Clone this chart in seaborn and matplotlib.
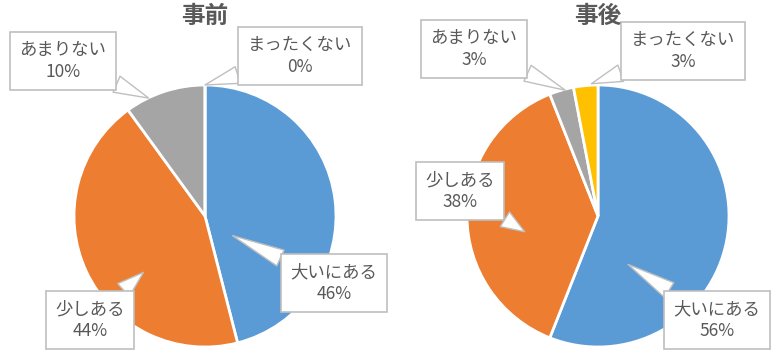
import numpy as np
import matplotlib
matplotlib.use("Agg")
import matplotlib.pyplot as plt
import seaborn as sns

categories = ["大いにある", "少しある", "あまりない", "まったくない"]
before_values = [46, 44, 10, 0]
after_values = [56, 38, 3, 3]
titles = ["事前", "事後"]
colors = ["#5B9BD5", "#ED7D31", "#A5A5A5", "#FFC000"]

# callout layout: (box centre in image px, pointer target in pie data units)
before_callouts = [((334, 283), (0.21, -0.15)),
                   ((90, 320), (-0.47, -0.43)),
                   ((63, 61), (-0.43, 0.90)),
                   ((300, 56), (0.0, 1.0))]
after_callouts = [((717, 320), (0.23, -0.37)),
                  ((460, 191), (-0.56, -0.12)),
                  ((474, 49), (-0.25, 0.96)),
                  ((683, 51), (-0.05, 1.01))]

sns.set_theme(style="white")
plt.rcParams["font.family"] = ["Noto Sans CJK JP", "DejaVu Sans"]

W, H = 780, 357
fig = plt.figure(figsize=(W / 100, H / 100), dpi=100)

R = 131
centres = [(205, 216), (598, 216)]
TEXT = "#595959"


def draw_pie(centre, values, title, callouts):
    cx, cy = centre
    ax = fig.add_axes([(cx - R) / W, (H - cy - R) / H, 2 * R / W, 2 * R / H])
    ax.pie(values, colors=colors, startangle=90, counterclock=False,
           radius=1.0, wedgeprops=dict(edgecolor="white", linewidth=2))
    ax.set_xlim(-1, 1)
    ax.set_ylim(-1, 1)
    ax.set_aspect("equal")
    ax.axis("off")
    fig.text(cx / W, 1 - 16 / H, title, ha="center", va="center",
             fontsize=17, fontweight="bold", color=TEXT)
    for cat, val, (box, tip) in zip(categories, values, callouts):
        ax.annotate(f"{cat}\n{val}%", xy=tip, xycoords="data",
                    xytext=(box[0], H - box[1]), textcoords="figure pixels",
                    ha="center", va="center", fontsize=12.5, color=TEXT,
                    linespacing=1.25, annotation_clip=False,
                    bbox=dict(boxstyle="square,pad=0.55", fc="white",
                              ec="#BFBFBF", lw=1.2),
                    arrowprops=dict(arrowstyle="wedge,tail_width=1.0,shrink_factor=0.5",
                                    fc="white", ec="#BFBFBF", lw=1,
                                    shrinkA=0, shrinkB=0))


draw_pie(centres[0], before_values, titles[0], before_callouts)
draw_pie(centres[1], after_values, titles[1], after_callouts)

fig.savefig("out.png", dpi=100)
